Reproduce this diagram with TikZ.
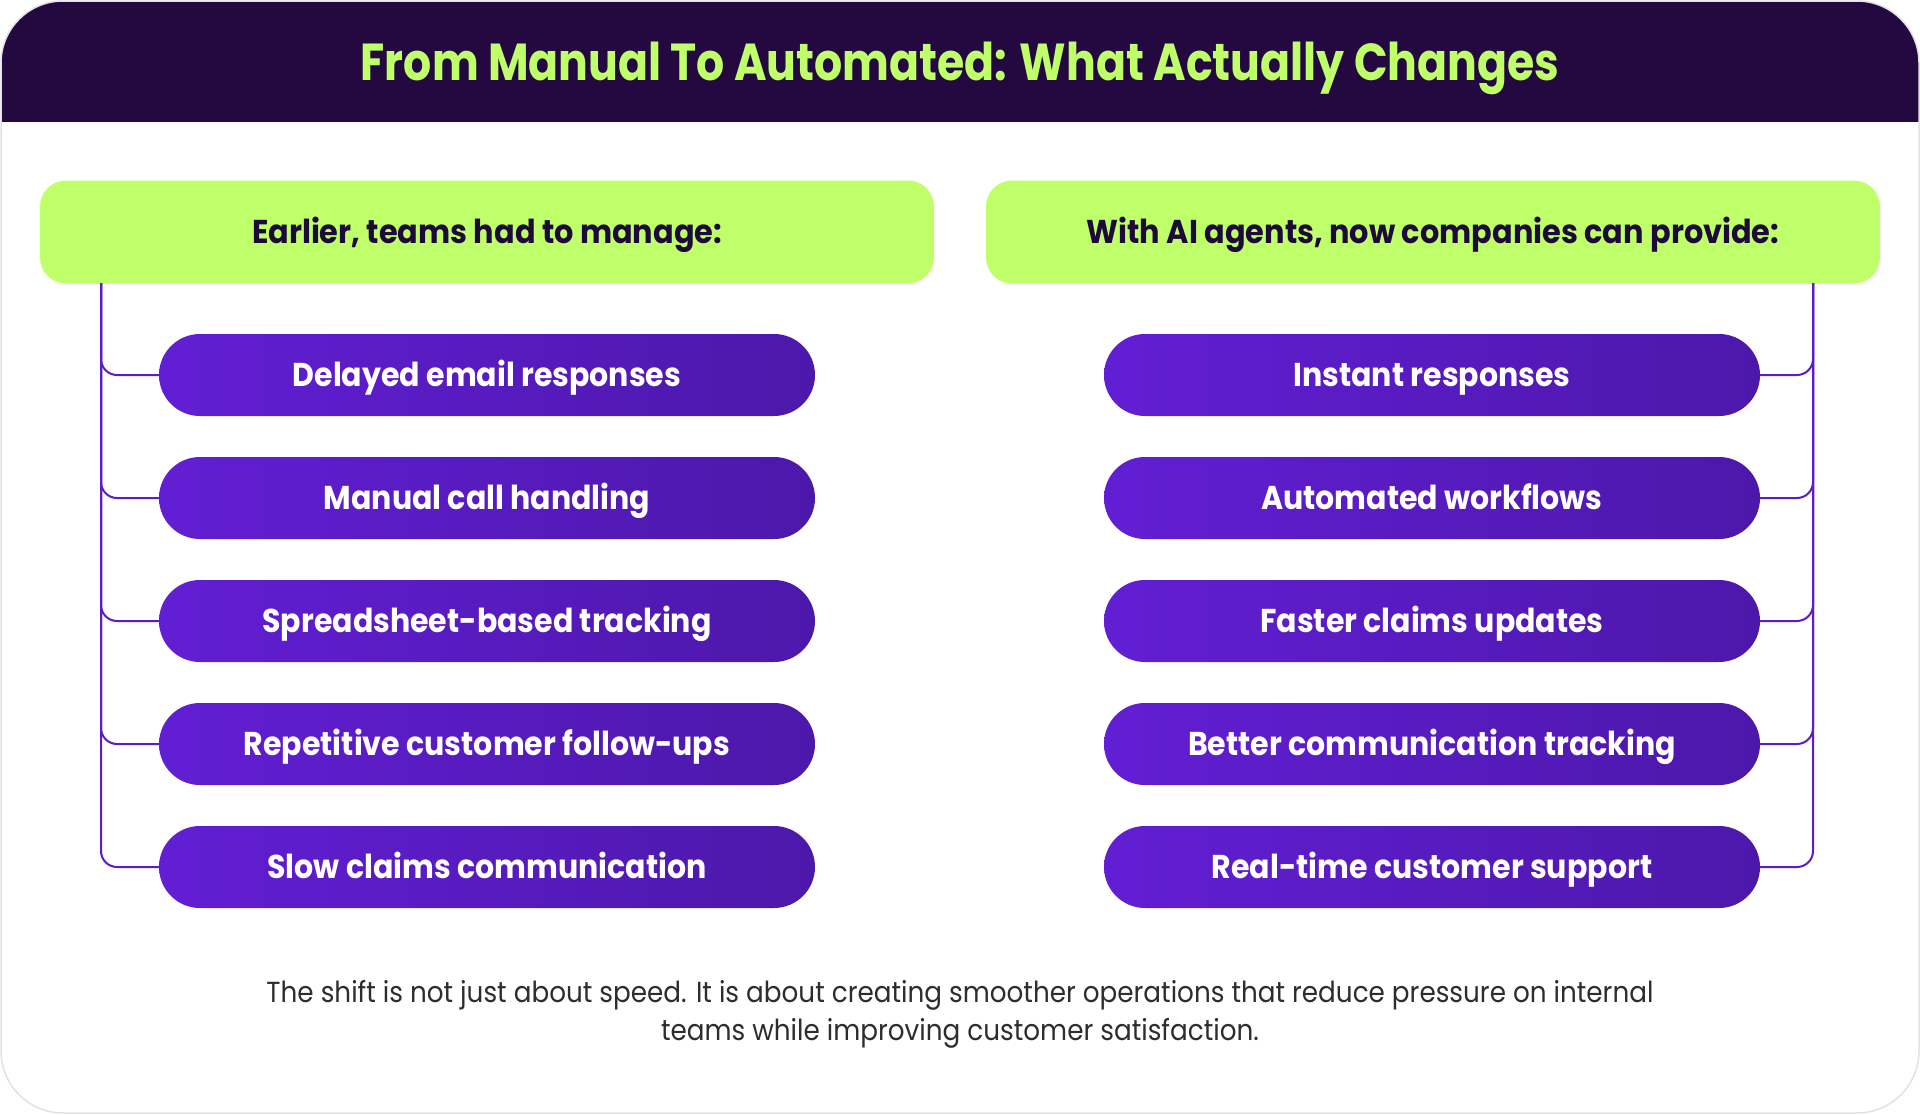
\documentclass[tikz,border=0pt]{standalone}
\usepackage{fontspec}
\setmainfont{Poppins}
\newfontfamily\titlefont[FakeStretch=0.85]{Poppins}
\newfontfamily\headfont[FakeStretch=0.92]{Poppins}
\newfontfamily\pillfont[FakeStretch=0.91]{Poppins}
\newfontfamily\footfont[FakeStretch=0.905]{Poppins}
\definecolor{headerbg}{RGB}{35,9,64}
\definecolor{lime}{RGB}{190,255,106}
\definecolor{darktext}{RGB}{30,10,56}
\definecolor{pillL}{RGB}{98,30,212}
\definecolor{pillR}{RGB}{76,24,170}
\definecolor{connc}{RGB}{92,28,200}
\definecolor{cardborder}{RGB}{226,226,226}
\definecolor{foot}{RGB}{45,45,45}
\tikzset{
  titletext/.style={text=lime, font=\titlefont\bfseries\fontsize{52}{60}\selectfont, inner sep=0pt, text height=36pt, text depth=0pt},
  greenbox/.style={fill=lime, rounded corners=26pt, minimum width=894pt, minimum height=103pt, text=darktext, font=\headfont\bfseries\fontsize{33}{38}\selectfont, inner sep=0pt, text height=23pt, text depth=0pt},
  pill/.style={rounded corners=41pt, left color=pillL, right color=pillR, minimum width=656pt, minimum height=82pt, text=white, font=\pillfont\bfseries\fontsize{33}{38}\selectfont, inner sep=0pt, text height=23pt, text depth=0pt},
  conn/.style={draw=connc, line width=2pt, rounded corners=16pt},
  foottext/.style={text=foot, align=center, font=\footfont\fontsize{29}{38}\selectfont, inner sep=0pt}
}
\begin{document}
\begin{tikzpicture}[x=1pt,y=-1pt]
\useasboundingbox (0,0) rectangle (1920,1114);
\fill[white] (0,0) rectangle (1920,1114);
\begin{scope}
\clip[rounded corners=62pt] (1,1) rectangle (1919,1113);
\fill[headerbg] (0,0) rectangle (1920,122);
\end{scope}
\draw[cardborder, line width=1.5pt, rounded corners=62pt] (1,1) rectangle (1919,1113);

\node[titletext] (title) at (960,62) {From Manual To Automated: What Actually Changes};

\node[greenbox] (lh) at (487,232) {Earlier, teams had to manage:};
\node[greenbox] (rh) at (1433,232) {With AI agents, now companies can provide:};

\node[pill] (l1) at (487,375) {Delayed email responses};
\node[pill] (l2) at (487,498) {Manual call handling};
\node[pill] (l3) at (487,621) {Spreadsheet-based tracking};
\node[pill] (l4) at (487,744) {Repetitive customer follow-ups};
\node[pill] (l5) at (487,867) {Slow claims communication};

\node[pill] (r1) at (1432,375) {Instant responses};
\node[pill] (r2) at (1432,498) {Automated workflows};
\node[pill] (r3) at (1432,621) {Faster claims updates};
\node[pill] (r4) at (1432,744) {Better communication tracking};
\node[pill] (r5) at (1432,867) {Real-time customer support};

\coordinate (lx) at (101,283);
\coordinate (rx) at (1813,283);
\foreach \i in {1,...,5} {
  \draw[conn] (lx) |- (l\i.west);
  \draw[conn] (rx) |- (r\i.east);
}

\node[foottext] (foot) at (960,1014) {The shift is not just about speed. It is about creating smoother operations that reduce pressure on internal\\teams while improving customer satisfaction.};
\end{tikzpicture}
\end{document}
